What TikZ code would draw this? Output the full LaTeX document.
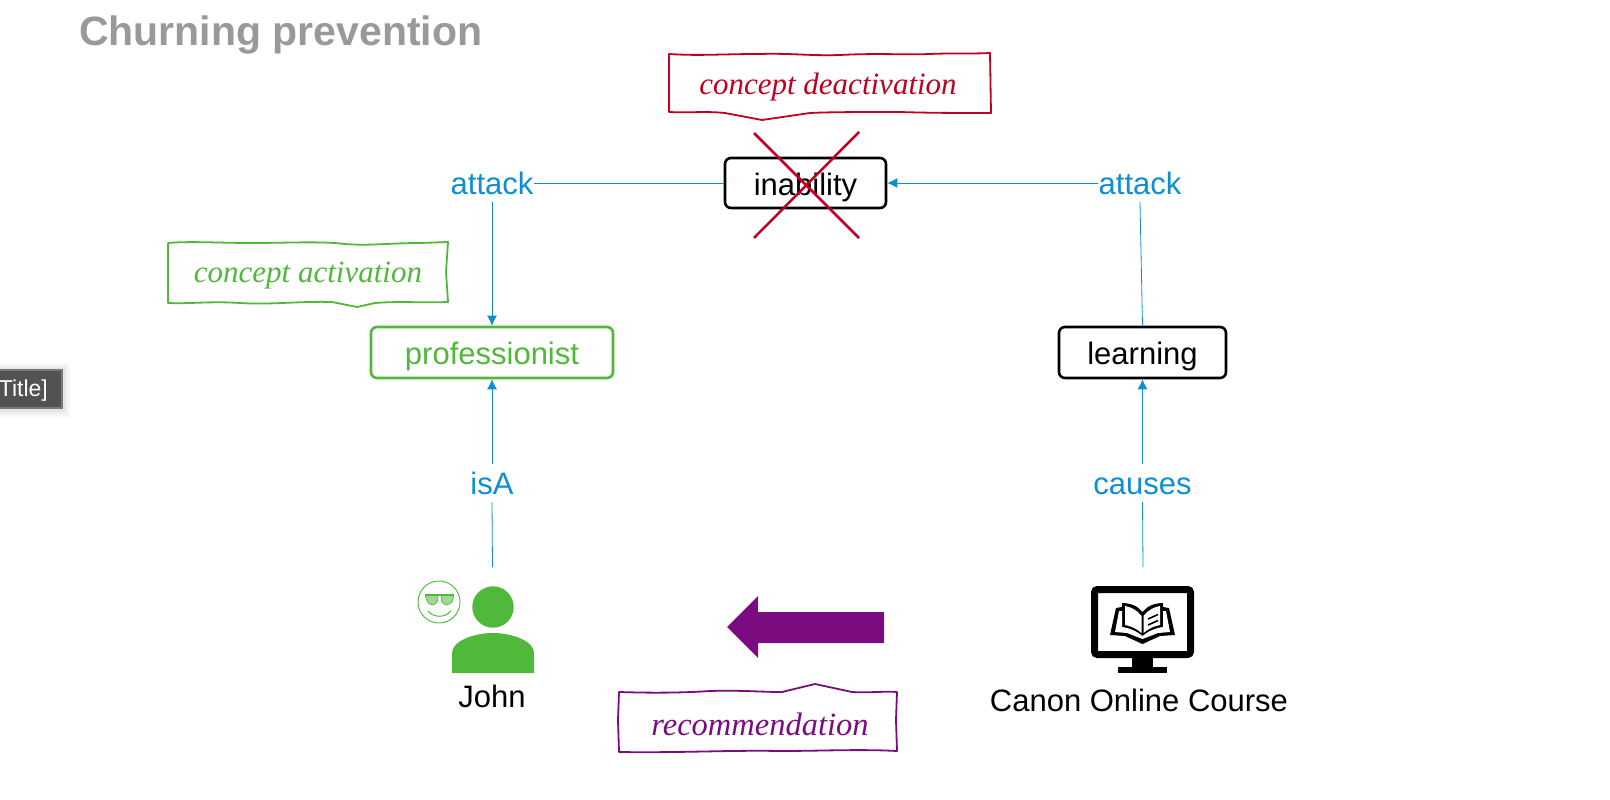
\documentclass[tikz,border=0pt]{standalone}
\usepackage{fontspec}
\setmainfont{Liberation Sans}
\newfontfamily\handfont{Liberation Serif}
\usetikzlibrary{arrows.meta,patterns}
\definecolor{cblue}{HTML}{0E8FD3}
\definecolor{cgreen}{HTML}{50B83A}
\definecolor{cred}{HTML}{C00020}
\definecolor{cpurple}{HTML}{7A0C80}
\definecolor{cgray}{HTML}{999999}
\tikzset{
  x=1pt,y=-1pt,
  conceptbox/.style={draw=black,line width=2.6pt,rounded corners=6pt,inner sep=0pt,text height=28pt,text depth=4pt,font=\fontsize{31}{34}\selectfont,text=black},
  linklabel/.style={inner sep=0pt,text height=30pt,text depth=8pt,text=cblue,font=\fontsize{31}{34}\selectfont},
  plaintext/.style={inner sep=0pt,text=black,font=\fontsize{31}{34}\selectfont},
  handtext/.style={inner sep=0pt,font=\handfont\itshape\fontsize{31}{38}\selectfont},
  wobble/.style={line width=1.8pt,line join=round},
  link/.style={draw=cblue,line width=0.8pt},
  linkarrow/.style={link,-{Latex[length=10pt,width=10pt]}},
}
\begin{document}
\begin{tikzpicture}
\useasboundingbox (0,0) rectangle (1610,800);
\fill[white] (0,0) rectangle (1610,800);

\node[anchor=west,inner sep=0pt,text=cgray,font=\bfseries\fontsize{41}{44}\selectfont] (title) at (79,35) {Churning prevention};

% clipped tag at the left edge
\begin{scope}
\clip (0,0) rectangle (1610,800);
\foreach \g/\o in {8/0.015,6/0.02,4/0.03,2/0.04}
  \fill[black,opacity=\o] (-10,{369+1-\g}) rectangle ({63+\g},{408+2+\g});
\node[draw=black!52,fill=black!68,line width=1.2pt,minimum width=78pt,minimum height=38pt,inner sep=0pt] (tagbox) at (23,389) {};
\node[anchor=east,inner sep=0pt,text=white,font=\fontsize{23}{26}\selectfont] (tagtext) at (48,391) {Title]};
\end{scope}

% concepts
\node[conceptbox,minimum width=161pt,minimum height=50pt] (inability) at (805.5,183) {inability};
\node[conceptbox,draw=cgreen,text=cgreen,minimum width=242pt,minimum height=51pt] (professionist) at (492,352.5) {professionist};
\node[conceptbox,minimum width=167pt,minimum height=51pt] (learning) at (1142.5,352.5) {learning};

% link labels
\node[linklabel] (attackL) at (492,183) {attack};
\node[linklabel] (attackR) at (1140,183) {attack};
\node[linklabel] (isa) at (492,483) {isA};
\node[linklabel] (causes) at (1142.5,483) {causes};

% John
\coordinate (johntop) at (492.5,567);
\coordinate (coursetop) at (1143,567);
\fill[cgreen] (493,607) circle (20.7);
\fill[cgreen] (452,673) -- (452,653) .. controls (452,641) and (474,633) .. (493,633) .. controls (512,633) and (534,641) .. (534,653) -- (534,673) -- cycle;
\node[plaintext] (john) at (492,696) {John};

% smiley
\draw[cgreen,line width=0.9pt] (439,602) circle (21);
\begin{scope}[cgreen]
  \fill[cgreen!55] (425,595) -- (438,595) -- (437.5,601) .. controls (436,606) and (429,606) .. (427,601) -- cycle;
  \fill[cgreen!55] (441,595) -- (454,595) -- (452.5,601) .. controls (450,606) and (443,606) .. (441.5,601) -- cycle;
  \draw[line width=1.2pt] (424.5,595) -- (454,595);
  \draw[line width=0.7pt] (425,595) -- (427,601) .. controls (429,606) and (436,606) .. (437.5,601) -- (438,595);
  \draw[line width=0.7pt] (441,595) -- (441.5,601) .. controls (443,606) and (450,606) .. (452.5,601) -- (454,595);
  \draw[line width=1pt,line cap=round] (428,611) .. controls (434,618) and (445,618) .. (451,611);
\end{scope}

% monitor
\draw[black,line width=7pt,rounded corners=3pt] (1094.5,589.5) rectangle (1190.5,654.5);
\fill[black] (1132,657) rectangle (1153,667);
\fill[black] (1118,667) rectangle (1167,673);
% book
\fill[black] (1142.5,644) -- (1125,636) -- (1110,635) -- (1116,608) -- (1122,607) -- (1122,603) .. controls (1130,603) and (1138,606) .. (1142.5,612) .. controls (1147,606) and (1155,603) .. (1163,603) -- (1163,607) -- (1169,608) -- (1175,635) -- (1160,636) -- cycle;
\fill[white] (1142.5,639) -- (1127,633) -- (1115,632) -- (1119,611) -- (1122,611) -- (1122,627) .. controls (1130,628) and (1138,632) .. (1142.5,636) .. controls (1147,632) and (1155,628) .. (1163,627) -- (1163,611) -- (1166,611) -- (1170,632) -- (1158,633) -- cycle;
\fill[white] (1141.5,616) .. controls (1137,610) and (1131,607) .. (1125,606) -- (1125,625) .. controls (1131,626) and (1137,629) .. (1141.5,633) -- cycle;
\fill[white] (1143.5,616) .. controls (1148,610) and (1154,607) .. (1160,606) -- (1160,625) .. controls (1154,626) and (1148,629) .. (1143.5,633) -- cycle;
\draw[black,line width=1.6pt] (1148,619) -- (1158,614.5) (1148,625) -- (1158,620.5);
\node[plaintext] (course) at (1139,700) {Canon Online Course};

% connectors
\draw[link] (attackL.east) -- (inability.west);
\draw[linkarrow] (attackR.west) -- (inability.east);
\draw[linkarrow] (attackL.south) -- (professionist.north);
\draw[link] (learning.north) -- (attackR.south);
\draw[linkarrow] (isa.north) -- (professionist.south);
\draw[link] (johntop) -- (isa.south);
\draw[linkarrow] (causes.north) -- (learning.south);
\draw[link] (coursetop) -- (causes.south);

% red cross
\coordinate (crossA) at (754,133);
\coordinate (crossB) at (859,238);
\coordinate (crossC) at (859,132);
\coordinate (crossD) at (754,238);
\draw[cred,line width=2.5pt] (crossA) -- (crossB) (crossC) -- (crossD);

% recommendation arrow
\fill[cpurple] (727,627) -- (758,596) -- (758,612) -- (884,612) -- (884,643) -- (758,643) -- (758,658) -- cycle;

% hand drawn boxes
\draw[wobble,cred] (669,54) .. controls (700,56) and (720,54) .. (760,54) .. controls (790,53) and (810,56) .. (840,55) .. controls (880,53) and (900,55) .. (930,54) .. controls (950,53) and (970,54) .. (990,53)
  -- (991,113) .. controls (960,113) and (930,113) .. (900,112) .. controls (860,112) and (830,112) .. (810,113) -- (762,120) -- (725,113) .. controls (705,111) and (690,113) .. (669,112) -- cycle;
\node[handtext,text=cred] (deact) at (828,87) {concept deactivation};

\draw[wobble,cgreen] (168,243) .. controls (190,241) and (220,243) .. (250,243) .. controls (290,243) and (320,241) .. (345,244) .. controls (370,246) and (390,243) .. (420,243) -- (448,242)
  -- (446,272) -- (448,302) .. controls (420,303) and (400,301) .. (375,303) -- (357,307) -- (332,302) .. controls (300,301) and (270,305) .. (240,303) .. controls (210,301) and (190,304) .. (168,303) -- cycle;
\node[handtext,text=cgreen] (act) at (308,276) {concept activation};

\draw[wobble,cpurple] (619,692) .. controls (650,693) and (680,693) .. (710,691) .. controls (740,690) and (760,692) .. (782,692) -- (815,684) -- (852,692) .. controls (870,693) and (885,691) .. (897,692)
  -- (896,720) -- (897,751) .. controls (860,749) and (820,751) .. (780,751) .. controls (730,750) and (680,753) .. (619,752) -- (618,720) -- cycle;
\node[handtext,text=cpurple,font=\handfont\itshape\fontsize{32.5}{38}\selectfont] (rec) at (760,724) {recommendation};
\end{tikzpicture}
\end{document}
